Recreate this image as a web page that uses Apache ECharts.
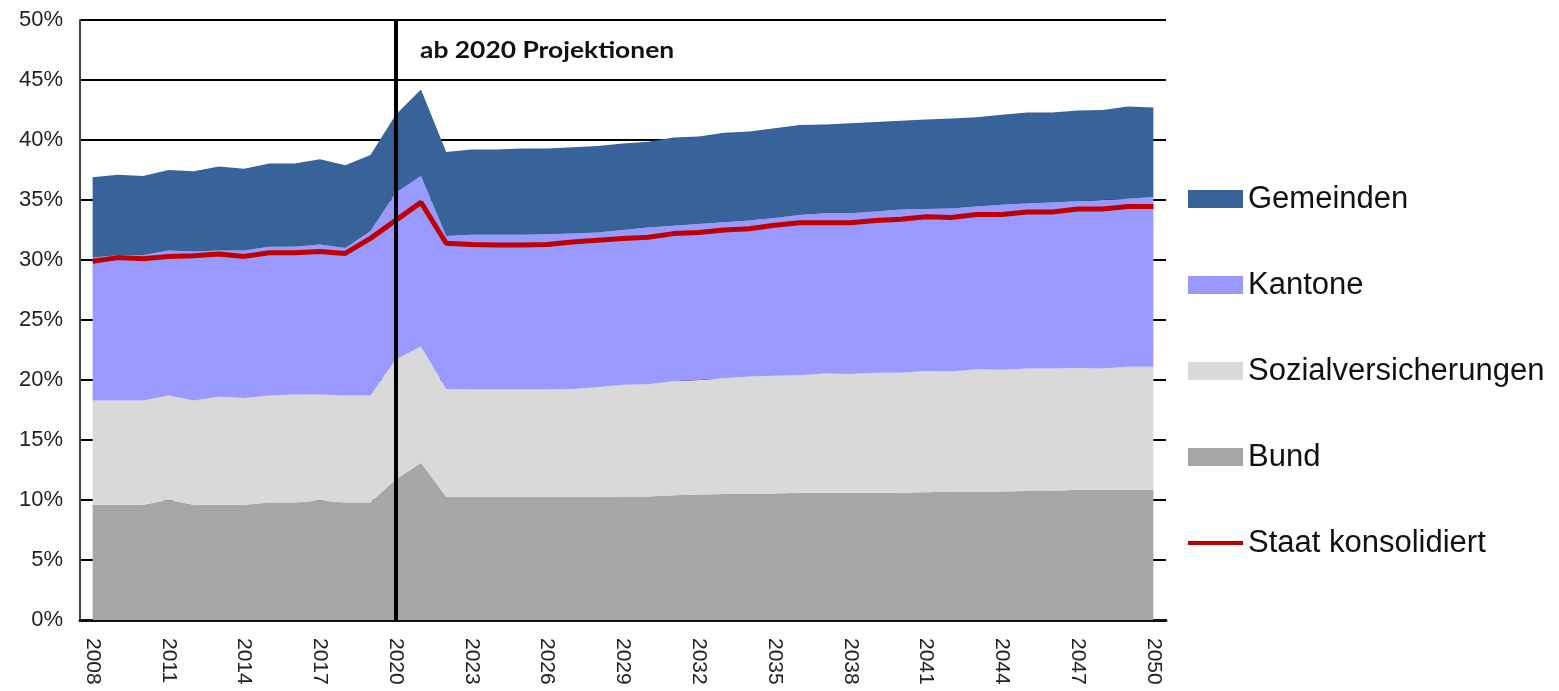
<!DOCTYPE html>
<html>
<head>
<meta charset="utf-8">
<script src="https://cdn.jsdelivr.net/npm/echarts@6/dist/echarts.min.js"></script>
<style>
html,body{margin:0;padding:0;background:#fff;}
#main{width:1559px;height:691px;}
</style>
</head>
<body>
<div id="main"></div>
<script>
var years=[];
for(var y=2008;y<=2050;y++){years.push(String(y));}

// Anteile in % des BIP
var bund=[9.6,9.6,9.6,10.0,9.6,9.6,9.6,9.8,9.8,9.95,9.8,9.8,11.7,13.1,10.25,10.25,10.25,10.25,10.25,10.25,10.25,10.3,10.3,10.4,10.45,10.5,10.5,10.55,10.6,10.6,10.6,10.6,10.6,10.65,10.7,10.7,10.7,10.75,10.75,10.85,10.85,10.85,10.85];
var sozial=[8.7,8.7,8.7,8.7,8.7,9.0,8.9,8.9,9.0,8.85,8.9,8.9,10.0,9.7,9.0,8.95,8.95,8.95,8.95,9.0,9.15,9.3,9.35,9.5,9.55,9.65,9.8,9.8,9.8,9.95,9.9,10.0,10.0,10.1,10.0,10.2,10.15,10.2,10.2,10.15,10.1,10.25,10.25];
var kantone=[11.9,12.1,12.1,12.1,12.4,12.2,12.3,12.4,12.3,12.5,12.3,13.7,13.9,14.2,12.75,12.9,12.9,12.9,12.95,12.95,12.9,12.9,13.05,12.95,13.0,13.0,13.0,13.15,13.35,13.35,13.4,13.45,13.6,13.5,13.6,13.55,13.75,13.75,13.85,13.9,14.05,14.0,14.15];
var gemeinden=[6.7,6.7,6.6,6.7,6.7,7.0,6.8,6.95,6.95,7.1,6.9,6.35,6.5,7.2,7.0,7.1,7.1,7.2,7.15,7.2,7.2,7.2,7.15,7.35,7.3,7.45,7.4,7.47,7.5,7.4,7.5,7.45,7.4,7.45,7.5,7.45,7.5,7.6,7.5,7.55,7.5,7.7,7.45];
var staat=[29.9,30.2,30.1,30.3,30.35,30.5,30.3,30.6,30.6,30.7,30.55,31.8,33.3,34.8,31.4,31.3,31.25,31.25,31.3,31.5,31.65,31.8,31.9,32.2,32.3,32.5,32.6,32.9,33.1,33.1,33.1,33.3,33.4,33.6,33.55,33.8,33.8,34.0,34.0,34.25,34.25,34.45,34.45];

var myChart=echarts.init(document.getElementById('main'));

function area(name,data,color){
	return {
		name:name,
		type:'line',
		stack:'total',
		data:data,
		symbol:'none',
		lineStyle:{width:0},
		areaStyle:{color:color,opacity:1},
		itemStyle:{color:color},
		z:2
	};
}

// duenne Linie als Legendensymbol (Ecken nur fuer die Box)
var lineIcon='path://M0,0L0.01,0L0,0.001Z M0,7L55,7L55,11L0,11Z M0,18L0.01,18L0,17.999Z';

var option={
	animation:false,
	backgroundColor:'#fff',
	graphic:[{
		type:'text',
		left:420,
		top:40,
		scaleX:1.2,
		z:10,
		style:{
			text:'ab 2020 Projektionen',
			font:'bold 22px Lato',
			fill:'#111'
		}
	}],
	grid:{left:80,right:393,top:20,bottom:71},
	legend:{
		orient:'vertical',
		left:1183,
		top:178,
		itemWidth:55,
		itemHeight:18,
		itemGap:54,
		textStyle:{fontFamily:'Liberation Sans',fontSize:31,color:'#111',lineHeight:32},
		data:[
			{name:'Gemeinden',icon:'rect'},
			{name:'Kantone',icon:'rect'},
			{name:'Sozialversicherungen',icon:'rect'},
			{name:'Bund',icon:'rect'},
			{name:'Staat konsolidiert',icon:lineIcon}
		]
	},
	xAxis:{
		type:'category',
		boundaryGap:true,
		data:years,
		axisLine:{lineStyle:{color:'#111',width:3}},
		axisTick:{show:false},
		axisLabel:{
			interval:2,
			rotate:-90,
			margin:18,
			fontFamily:'Liberation Sans',
			fontSize:21,
			color:'#222'
		}
	},
	yAxis:{
		type:'value',
		min:0,
		max:50,
		interval:5,
		axisLine:{show:true,lineStyle:{color:'#444',width:2}},
		axisTick:{show:false},
		axisLabel:{
			formatter:'{value}%',
			margin:17,
			fontFamily:'Liberation Sans',
			fontSize:22,
			color:'#222'
		},
		splitLine:{lineStyle:{color:'#000',width:2}}
	},
	series:[
		area('Bund',bund,'#a6a6a6'),
		area('Sozialversicherungen',sozial,'#d9d9d9'),
		area('Kantone',kantone,'#9999ff'),
		area('Gemeinden',gemeinden,'#37629a'),
		{
			name:'Staat konsolidiert',
			type:'line',
			data:staat,
			symbol:'none',
			lineStyle:{color:'#c00000',width:5},
			itemStyle:{color:'#c00000'},
			z:4
		},
		{
			name:'projektion',
			type:'line',
			data:[],
			z:6,
			markLine:{
				silent:true,
				symbol:'none',
				label:{show:false},
				lineStyle:{color:'#000',width:4,type:'solid'},
				data:[{xAxis:'2020'}]
			}
		}
	]
};

myChart.setOption(option);
window.onresize=myChart.resize;
</script>
</body>
</html>
